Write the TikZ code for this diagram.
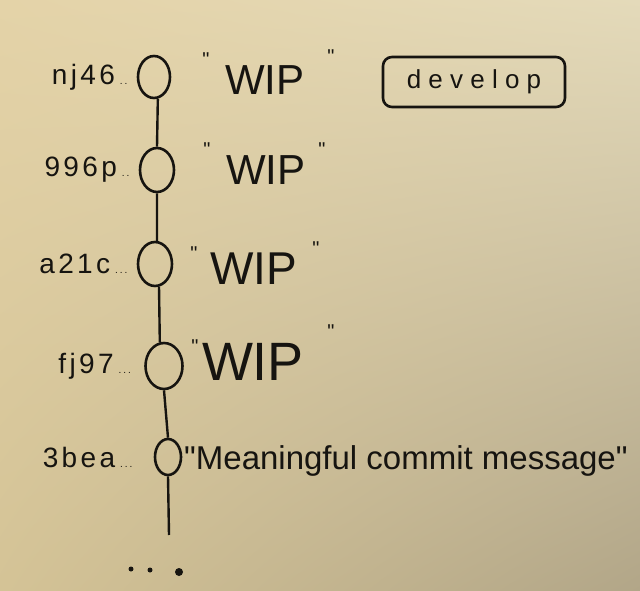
\documentclass[tikz,border=0pt]{standalone}
\usepackage{fontspec}
\setmainfont{Liberation Sans}[Ligatures=TeXOff]
\usetikzlibrary{shapes.geometric,shadings}
\definecolor{paperTL}{RGB}{228,211,168}
\definecolor{paperTR}{RGB}{228,218,186}
\definecolor{paperBL}{RGB}{212,195,150}
\definecolor{paperBR}{RGB}{178,166,136}
\definecolor{ink}{RGB}{22,20,16}
\newcommand{\qq}{\symbol{34}}
\newcommand{\tinydots}[1]{\hspace{5pt}{\fontsize{10}{10}\selectfont\addfontfeature{LetterSpace=20}#1}}
\tikzset{
  commit/.style={ellipse, draw=ink, line width=2.6pt, inner sep=0pt},
  hashlbl/.style={anchor=east, text=ink, font=\fontsize{28}{28}\selectfont\addfontfeature{LetterSpace=12}, inner sep=1pt},
  msg/.style={text=ink, inner sep=1pt},
  quote/.style={text=ink, font=\fontsize{20}{20}\selectfont, inner sep=0pt},
  branch/.style={draw=ink, line width=2.6pt, rounded corners=9pt, minimum width=182pt, minimum height=50pt, text=ink, font=\fontsize{26}{26}\selectfont},
  link/.style={draw=ink, line width=2.4pt},
  dot/.style={circle, fill=ink, inner sep=0pt}
}
\begin{document}
\begin{tikzpicture}[x=1pt,y=-1pt]
\useasboundingbox (0,0) rectangle (640,591);
% paper background
\shade[upper left=paperTL, upper right=paperTR, lower left=paperBL, lower right=paperBR] (0,0) rectangle (640,591);
% commits
\node[commit, minimum width=32pt, minimum height=42pt] (c1) at (154,77) {};
\node[commit, minimum width=34pt, minimum height=44pt] (c2) at (157,170) {};
\node[commit, minimum width=34pt, minimum height=44pt] (c3) at (155,264) {};
\node[commit, minimum width=37pt, minimum height=46pt] (c4) at (164,366) {};
\node[commit, minimum width=26pt, minimum height=36pt] (c5) at (168,457) {};
\coordinate (tail) at (169,535);
\draw[link] (c1.-80) -- (c2.north);
\draw[link] (c2.south) -- (c3.85);
\draw[link] (c3.-80) -- (c4.100);
\draw[link] (c4.south) -- (c5.north);
\draw[link] (c5.south) -- (tail);
% hashes
\node[hashlbl] (h1) at ([xshift=-8pt]c1.west) {nj46\tinydots{..}};
\node[hashlbl] (h2) at ([xshift=-8pt]c2.west) {996p\tinydots{..}};
\node[hashlbl] (h3) at ([xshift=-8pt]c3.west) {a21c\tinydots{...}};
\node[hashlbl] (h4) at ([xshift=-12pt]c4.west) {fj97\tinydots{...}};
\node[hashlbl] (h5) at ([xshift=-20pt]c5.west) {3bea\tinydots{...}};
% messages
\node[msg, font=\fontsize{42}{42}\selectfont] (m1) at (265,80) {WIP};
\node[quote] (m1a) at (206,60) {\qq};
\node[quote] (m1b) at (331,57) {\qq};
\node[msg, font=\fontsize{42}{42}\selectfont] (m2) at (266,170) {WIP};
\node[quote] (m2a) at (207,150) {\qq};
\node[quote] (m2b) at (322,150) {\qq};
\node[msg, font=\fontsize{46}{46}\selectfont] (m3) at (254,269) {WIP};
\node[quote] (m3a) at (194,254) {\qq};
\node[quote] (m3b) at (316,249) {\qq};
\node[msg, font=\fontsize{54}{54}\selectfont] (m4) at (253,362) {WIP};
\node[quote] (m4a) at (195,347) {\qq};
\node[quote] (m4b) at (331,332) {\qq};
\node[msg, anchor=west, font=\fontsize{33}{33}\selectfont] (m5) at (183,461) {\qq Meaningful commit message\qq};
% branch label
\node[branch] (dev) at (474,82) {d e v e l o p};
% trailing dots
\node[dot, minimum size=5pt] (d1) at (131,569) {};
\node[dot, minimum size=5pt] (d2) at (150,570) {};
\node[dot, minimum size=8pt] (d3) at (179,572) {};
\end{tikzpicture}
\end{document}
